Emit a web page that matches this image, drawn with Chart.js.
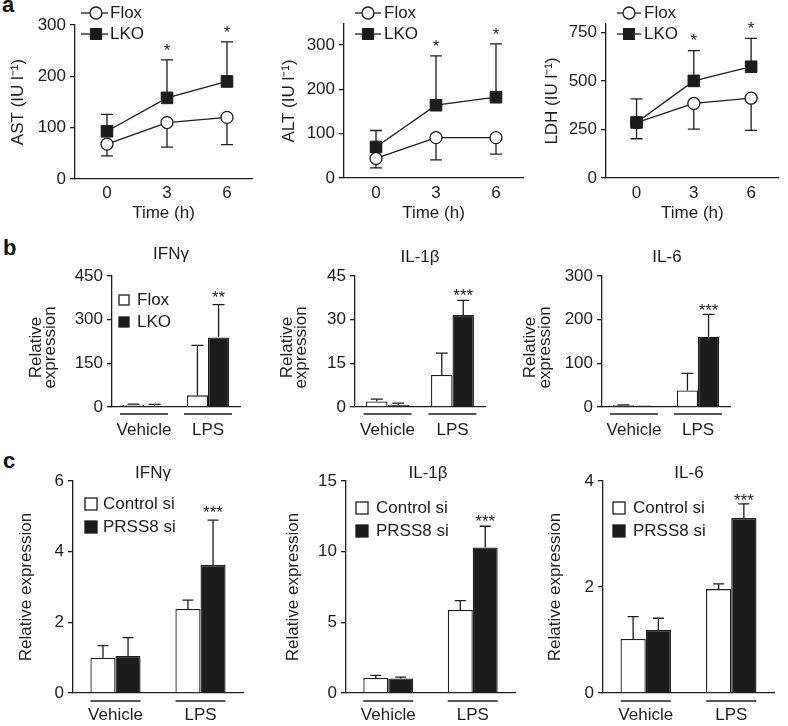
<!DOCTYPE html>
<html>
<head>
<meta charset="utf-8">
<title>Serum enzymes and cytokine expression</title>
<script src="https://cdn.jsdelivr.net/npm/chart.js@4.4.1/dist/chart.umd.min.js"></script>
<style>
  html, body { margin: 0; padding: 0; background: #fff; }
  #fig { position: relative; width: 788px; height: 726px; overflow: hidden; }
  #fig canvas { position: absolute; left: 0; top: 0; }
  .tag { position: absolute; font: bold 22px "Liberation Sans", Arial, sans-serif; color: #111; line-height: 24px; }
</style>
</head>
<body>
<div id="fig">
  <div class="tag" style="left:2px; top:-7px">a</div>
  <div class="tag" style="left:3px; top:236px">b</div>
  <div class="tag" style="left:3px; top:449px">c</div>
  <canvas id="a1" width="788" height="726"></canvas>
  <canvas id="a2" width="788" height="726"></canvas>
  <canvas id="a3" width="788" height="726"></canvas>
  <canvas id="b1" width="788" height="726"></canvas>
  <canvas id="b2" width="788" height="726"></canvas>
  <canvas id="b3" width="788" height="726"></canvas>
  <canvas id="c1" width="788" height="726"></canvas>
  <canvas id="c2" width="788" height="726"></canvas>
  <canvas id="c3" width="788" height="726"></canvas>
</div>
<script>
const FONT = '"Liberation Sans", Arial, Helvetica, sans-serif';
const INK = '#1c1c1c';
Chart.defaults.font.family = FONT;
Chart.defaults.font.size = 17;
Chart.defaults.color = INK;

// ---- a: serum enzymes, time after LPS ----
const times = [0, 3, 6];

const astFlox = [68, 110, 120];
const astFloxLow = [45, 62, 67];
const astLKO = [93, 158, 190];
const astLKOHigh = [126, 232, 267];
const astTicks = [0, 100, 200, 300];

const altFlox = [44, 91, 91];
const altFloxLow = [23, 41, 54];
const altLKO = [70, 164, 182];
const altLKOHigh = [107, 275, 302];
const altTicks = [0, 100, 200, 300];

const ldhFlox = [285, 384, 411];
const ldhFloxLow = [202, 252, 245];
const ldhLKO = [286, 500, 573];
const ldhLKOHigh = [407, 656, 719];
const ldhTicks = [0, 250, 500, 750];

// ---- b: liver mRNA, Flox vs LKO ----
const groups = ['Vehicle', 'LPS'];

const ifngFlox = [8, 40];
const ifngFloxErr = [10, 212];
const ifngLKO = [2, 239];
const ifngLKOErr = [9, 352];
const ifngTicks = [0, 150, 300, 450];

const il1bFlox = [1.9, 11];
const il1bFloxErr = [2.7, 18.5];
const il1bLKO = [0.8, 31.6];
const il1bLKOErr = [1.3, 36.6];
const il1bTicks = [0, 15, 30, 45];

const il6Flox = [4, 38];
const il6FloxErr = [5, 77];
const il6LKO = [1, 161];
const il6LKOErr = [1.5, 212];
const il6Ticks = [0, 100, 200, 300];

// ---- c: cells, control vs PRSS8 siRNA ----
const cIfngCtl = [1.0, 2.38];
const cIfngCtlErr = [1.34, 2.63];
const cIfngSi = [1.05, 3.62];
const cIfngSiErr = [1.57, 4.89];
const cIfngTicks = [0, 2, 4, 6];

const cIl1bCtl = [1.06, 5.88];
const cIl1bCtlErr = [1.25, 6.54];
const cIl1bSi = [1.03, 10.3];
const cIl1bSiErr = [1.13, 11.8];
const cIl1bTicks = [0, 5, 10, 15];

const cIl6Ctl = [1.02, 1.96];
const cIl6CtlErr = [1.44, 2.06];
const cIl6Si = [1.19, 3.30];
const cIl6SiErr = [1.41, 3.57];
const cIl6Ticks = [0, 2, 4];

const W = 788, H = 726, XH = 50, YW = 40;

function drawErrors(chart, cap) {
  const ctx = chart.ctx, ys = chart.scales.y;
  ctx.save();
  ctx.strokeStyle = INK;
  ctx.lineWidth = 1.3;
  chart.data.datasets.forEach((ds, d) => {
    if (!ds.err) return;
    chart.getDatasetMeta(d).data.forEach((el, i) => {
      const ye = ys.getPixelForValue(ds.err[i]);
      ctx.beginPath();
      ctx.moveTo(el.x, el.y);
      ctx.lineTo(el.x, ye);
      ctx.moveTo(el.x - cap / 2, ye);
      ctx.lineTo(el.x + cap / 2, ye);
      ctx.stroke();
    });
  });
  ctx.restore();
}

const deco = {
  id: 'deco',
  beforeDatasetsDraw(chart) {
    const o = chart.options.plugins.deco;
    if (o.errBehind) drawErrors(chart, o.cap);
  },
  afterDatasetsDraw(chart) {
    const o = chart.options.plugins.deco;
    const ctx = chart.ctx;
    const area = chart.chartArea;
    if (!o.errBehind) drawErrors(chart, o.cap);
    ctx.save();
    ctx.fillStyle = INK;
    ctx.strokeStyle = INK;

    // significance stars
    (o.stars || []).forEach(s => {
      const ds = chart.data.datasets[s.ds];
      const el = chart.getDatasetMeta(s.ds).data[s.i];
      const top = chart.scales.y.getPixelForValue(ds.err[s.i]);
      ctx.font = o.starSize + 'px ' + FONT;
      ctx.textAlign = 'center';
      ctx.textBaseline = 'alphabetic';
      ctx.fillText(s.text, el.x, top - o.starGap + o.starSize * 0.58);
    });

    // panel title
    if (o.title) {
      ctx.font = '17px ' + FONT;
      ctx.textAlign = 'center';
      ctx.textBaseline = 'middle';
      ctx.fillText(o.title.text, o.title.x, o.title.y);
    }

    // rotated y-axis title
    if (o.yTitle) {
      const yc = (area.top + area.bottom) / 2 + (o.yTitle.dy || 0);
      ctx.font = o.yTitle.size + 'px ' + FONT;
      ctx.textAlign = 'center';
      ctx.textBaseline = 'alphabetic';
      o.yTitle.lines.forEach((txt, k) => {
        ctx.save();
        ctx.translate(o.yTitle.xs[k], yc);
        ctx.rotate(-Math.PI / 2);
        ctx.fillText(txt, 0, 0);
        ctx.restore();
      });
    }

    // legend
    const lg = o.legend;
    if (lg) {
      ctx.font = '17px ' + FONT;
      ctx.textAlign = 'left';
      ctx.textBaseline = 'middle';
      ctx.lineWidth = 1.3;
      lg.items.forEach((it, k) => {
        const y = lg.ys[k];
        if (lg.kind === 'line') {
          ctx.beginPath();
          ctx.moveTo(lg.x0, y);
          ctx.lineTo(lg.x1, y);
          ctx.stroke();
          if (it.style === 'circle') {
            ctx.beginPath();
            ctx.arc(lg.mx, y, 6, 0, Math.PI * 2);
            ctx.fillStyle = '#fff';
            ctx.fill();
            ctx.stroke();
          } else {
            ctx.fillStyle = INK;
            ctx.fillRect(lg.mx - 6, y - 6, 12, 12);
          }
        } else {
          const h = lg.size / 2;
          ctx.fillStyle = it.fill;
          ctx.fillRect(lg.mx - h, y - h, lg.size, lg.size);
          ctx.strokeRect(lg.mx - h, y - h, lg.size, lg.size);
        }
        ctx.fillStyle = INK;
        ctx.fillText(it.label, lg.tx, y);
      });
    }

    // group underlines above Vehicle / LPS
    if (o.under) {
      const xs = chart.scales.x;
      ctx.lineWidth = 1.5;
      groups.forEach((g, j) => {
        const cx = xs.getPixelForValue(j);
        ctx.beginPath();
        ctx.moveTo(cx - o.under.half, area.bottom + o.under.dy);
        ctx.lineTo(cx + o.under.half, area.bottom + o.under.dy);
        ctx.stroke();
      });
    }
    ctx.restore();
  }
};

function yScale(p) {
  return {
    min: 0,
    max: p.yMax,
    afterBuildTicks: s => { s.ticks = p.ticks.map(v => ({ value: v })); },
    afterFit: s => { s.width = YW; },
    grid: { drawOnChartArea: false, drawTicks: true, tickLength: 5, color: INK, lineWidth: 1.3 },
    border: { color: INK, width: 1.3 },
    ticks: { padding: 4, color: INK, font: { size: 17 } }
  };
}

function padding(pos) {
  return { left: pos.l - YW, top: pos.t, right: W - pos.r, bottom: H - pos.b - XH };
}

function linePanel(id, p) {
  new Chart(document.getElementById(id), {
    type: 'line',
    data: {
      datasets: [
        {
          label: 'LKO',
          data: times.map((t, i) => ({ x: t, y: p.lko[i] })),
          err: p.lkoHigh,
          borderColor: INK, borderWidth: 1.3,
          pointStyle: 'rect', pointRadius: 8.2,
          pointBackgroundColor: INK, pointBorderColor: INK, pointBorderWidth: 1
        },
        {
          label: 'Flox',
          data: times.map((t, i) => ({ x: t, y: p.flox[i] })),
          err: p.floxLow,
          borderColor: INK, borderWidth: 1.3,
          pointStyle: 'circle', pointRadius: 6,
          pointBackgroundColor: '#fff', pointBorderColor: INK, pointBorderWidth: 1.3
        }
      ]
    },
    options: {
      responsive: false, animation: false, devicePixelRatio: 1,
      layout: { padding: padding(p.pos) },
      plugins: {
        legend: { display: false }, tooltip: { enabled: false },
        deco: {
          errBehind: true, cap: 12, stars: p.stars, starSize: 17, starGap: 14,
          yTitle: { lines: [p.yTitle], xs: [p.yTitleX], size: 17 },
          legend: Object.assign({ kind: 'line', ys: [13, 34],
            items: [{ label: 'Flox', style: 'circle' }, { label: 'LKO', style: 'rect' }] }, p.legend)
        }
      },
      scales: {
        x: {
          type: 'linear', min: p.xMin, max: p.xMax,
          afterBuildTicks: s => { s.ticks = times.map(v => ({ value: v })); },
          afterFit: s => { s.height = XH; },
          grid: { display: false, drawTicks: false },
          border: { color: INK, width: 1.3 },
          ticks: { padding: 193 - p.pos.b - 10.2, color: INK, font: { size: 17 } },
          title: { display: true, text: 'Time (h)', color: INK, font: { size: 17 },
                   padding: { top: 0, bottom: p.pos.b + XH - 213 - 10.2 } }
        },
        y: yScale(p)
      }
    },
    plugins: [deco]
  });
}

function barPanel(id, p) {
  new Chart(document.getElementById(id), {
    type: 'bar',
    data: {
      labels: groups,
      datasets: [
        { label: p.names[0], data: p.a, err: p.aErr, backgroundColor: '#fff',
          borderColor: INK, borderWidth: 1.3 },
        { label: p.names[1], data: p.b, err: p.bErr, backgroundColor: INK,
          borderColor: INK, borderWidth: 1.3 }
      ]
    },
    options: {
      responsive: false, animation: false, devicePixelRatio: 1,
      layout: { padding: padding(p.pos) },
      datasets: { bar: { categoryPercentage: p.catPct, barPercentage: 1 } },
      plugins: {
        legend: { display: false }, tooltip: { enabled: false },
        deco: {
          errBehind: false, cap: p.cap, stars: p.stars, starSize: 17, starGap: p.starGap,
          title: p.title,
          yTitle: p.yTitle,
          legend: p.legend,
          under: { half: p.underHalf, dy: p.underDy }
        }
      },
      scales: {
        x: {
          afterFit: s => { s.height = XH; },
          grid: { display: false, drawTicks: false },
          border: { color: INK, width: 1.3 },
          ticks: { padding: p.labelY - p.pos.b - 10.2, color: INK, font: { size: 17 } }
        },
        y: yScale(p)
      }
    },
    plugins: [deco]
  });
}

// ---- panel a ----
const unitLabel = ' (IU l\u207B\u00B9)';
linePanel('a1', {
  pos: { l: 75, r: 252, t: 25, b: 179 }, xMin: -1.6, xMax: 7.25,
  yMax: 300, ticks: astTicks, flox: astFlox, floxLow: astFloxLow, lko: astLKO, lkoHigh: astLKOHigh,
  yTitle: 'AST' + unitLabel, yTitleX: 23,
  legend: { x0: 81, mx: 96, x1: 108, tx: 110 },
  stars: [{ ds: 0, i: 1, text: '*' }, { ds: 0, i: 2, text: '*' }]
});
linePanel('a2', {
  pos: { l: 344, r: 523, t: 24, b: 178 }, xMin: -1.6, xMax: 7.35,
  yMax: 347, ticks: altTicks, flox: altFlox, floxLow: altFloxLow, lko: altLKO, lkoHigh: altLKOHigh,
  yTitle: 'ALT' + unitLabel, yTitleX: 294,
  legend: { x0: 355, mx: 368, x1: 381, tx: 384 },
  stars: [{ ds: 0, i: 1, text: '*' }, { ds: 0, i: 2, text: '*' }]
});
linePanel('a3', {
  pos: { l: 606, r: 787, t: 24, b: 178 }, xMin: -1.6, xMax: 7.45,
  yMax: 793, ticks: ldhTicks, flox: ldhFlox, floxLow: ldhFloxLow, lko: ldhLKO, lkoHigh: ldhLKOHigh,
  yTitle: 'LDH' + unitLabel, yTitleX: 557,
  legend: { x0: 617, mx: 629, x1: 641, tx: 644 },
  stars: [{ ds: 0, i: 1, text: '*' }, { ds: 0, i: 2, text: '*' }]
});

// ---- panel b ----
const bNames = ['Flox', 'LKO'];
const bYTitle = xs => ({ lines: ['Relative', 'expression'], xs: xs, size: 17, dy: 6 });
barPanel('b1', {
  pos: { l: 112, r: 240, t: 276, b: 407 }, yMax: 450, ticks: ifngTicks,
  names: bNames, a: ifngFlox, aErr: ifngFloxErr, b: ifngLKO, bErr: ifngLKOErr,
  catPct: 0.66, cap: 12, starGap: 11, labelY: 430, underHalf: 24, underDy: 7,
  title: { text: 'IFN\u03B3', x: 171, y: 254 },
  yTitle: bYTitle([41, 55]),
  legend: { kind: 'box', mx: 124, tx: 137, ys: [300, 322], size: 10,
            items: [{ label: 'Flox', fill: '#fff' }, { label: 'LKO', fill: INK }] },
  stars: [{ ds: 1, i: 1, text: '**' }]
});
barPanel('b2', {
  pos: { l: 355, r: 485, t: 276, b: 407 }, yMax: 45, ticks: il1bTicks,
  names: bNames, a: il1bFlox, aErr: il1bFloxErr, b: il1bLKO, bErr: il1bLKOErr,
  catPct: 0.66, cap: 12, starGap: 9, labelY: 430, underHalf: 24, underDy: 7,
  title: { text: 'IL-1\u03B2', x: 420, y: 257 },
  yTitle: bYTitle([292, 306]),
  stars: [{ ds: 1, i: 1, text: '***' }]
});
barPanel('b3', {
  pos: { l: 602, r: 730, t: 276, b: 407 }, yMax: 300, ticks: il6Ticks,
  names: bNames, a: il6Flox, aErr: il6FloxErr, b: il6LKO, bErr: il6LKOErr,
  catPct: 0.66, cap: 12, starGap: 8, labelY: 430, underHalf: 24, underDy: 7,
  title: { text: 'IL-6', x: 667, y: 257 },
  yTitle: bYTitle([535, 550]),
  stars: [{ ds: 1, i: 1, text: '***' }]
});

// ---- panel c ----
const cNames = ['Control si', 'PRSS8 si'];
const cLegend = (mx, tx, ys) => ({ kind: 'box', mx: mx, tx: tx, ys: ys, size: 12,
  items: [{ label: cNames[0], fill: '#fff' }, { label: cNames[1], fill: INK }] });
const cYTitle = x => ({ lines: ['Relative expression'], xs: [x], size: 17, dy: 0 });
barPanel('c1', {
  pos: { l: 73, r: 243, t: 481, b: 693 }, yMax: 6, ticks: cIfngTicks,
  names: cNames, a: cIfngCtl, aErr: cIfngCtlErr, b: cIfngSi, bErr: cIfngSiErr,
  catPct: 0.59, cap: 11, starGap: 12, labelY: 715, underHalf: 25, underDy: 8,
  title: { text: 'IFN\u03B3', x: 153, y: 473 },
  yTitle: cYTitle(31),
  legend: cLegend(91, 103, [504, 527]),
  stars: [{ ds: 1, i: 1, text: '***' }]
});
barPanel('c2', {
  pos: { l: 346, r: 515, t: 481, b: 693 }, yMax: 15, ticks: cIl1bTicks,
  names: cNames, a: cIl1bCtl, aErr: cIl1bCtlErr, b: cIl1bSi, bErr: cIl1bSiErr,
  catPct: 0.59, cap: 11, starGap: 9.5, labelY: 715, underHalf: 25, underDy: 8,
  title: { text: 'IL-1\u03B2', x: 428, y: 473 },
  yTitle: cYTitle(298),
  legend: cLegend(362, 376, [508, 531]),
  stars: [{ ds: 1, i: 1, text: '***' }]
});
barPanel('c3', {
  pos: { l: 603, r: 774, t: 481, b: 693 }, yMax: 4, ticks: cIl6Ticks,
  names: cNames, a: cIl6Ctl, aErr: cIl6CtlErr, b: cIl6Si, bErr: cIl6SiErr,
  catPct: 0.59, cap: 11, starGap: 7.5, labelY: 715, underHalf: 25, underDy: 8,
  title: { text: 'IL-6', x: 689, y: 473 },
  yTitle: cYTitle(560),
  legend: cLegend(619, 633, [508, 531]),
  stars: [{ ds: 1, i: 1, text: '***' }]
});
</script>
</body>
</html>
